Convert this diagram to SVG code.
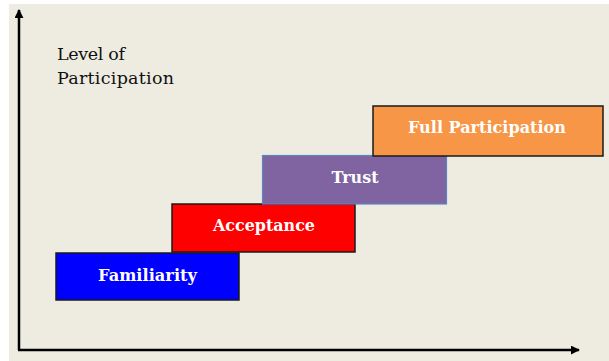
<svg xmlns="http://www.w3.org/2000/svg" width="609" height="361" viewBox="0 0 609 361">
<style>
.box{stroke:#1a1a1a;stroke-width:1.5}
.lbl{font-family:"DejaVu Serif","Liberation Serif",serif;font-weight:bold;font-size:17.5px;fill:#ffffff;text-anchor:middle}
.axis{fill:none;stroke:#000;stroke-width:2.5}
.ttl{font-family:"DejaVu Serif","Liberation Serif",serif;font-size:17.5px;fill:#111}
</style>
<defs>
<marker id="ah" viewBox="0 0 10 10" refX="9" refY="5" markerWidth="3.6" markerHeight="3.6" orient="auto" markerUnits="strokeWidth">
<path d="M0,0 L10,5 L0,10 Z" fill="#000"/>
</marker>
</defs>
<rect x="0" y="0" width="609" height="361" fill="#ffffff"/>
<rect x="9" y="4" width="600" height="357" fill="#EEECE1"/>
<g id="axes">
<path class="axis" d="M19,350 L19,10" marker-end="url(#ah)"/>
<path class="axis" d="M18,350 L579,350" marker-end="url(#ah)"/>
</g>
<g id="title">
<text class="ttl" x="57" y="60" textLength="68">Level of</text>
<text class="ttl" x="57" y="84" textLength="117">Participation</text>
</g>
<g id="familiarity">
<rect class="box" x="56" y="253" width="183" height="47" fill="#0000FF"/>
<text class="lbl" x="147.5" y="281" textLength="99" lengthAdjust="spacingAndGlyphs">Familiarity</text>
</g>
<g id="acceptance">
<rect class="box" x="172" y="204" width="183" height="48" fill="#FF0000"/>
<text class="lbl" x="264" y="231" textLength="102" lengthAdjust="spacingAndGlyphs">Acceptance</text>
</g>
<g id="trust">
<rect x="262.5" y="155.5" width="184" height="48.5" fill="#8064A2" stroke="#5B86C0" stroke-width="1.2"/>
<text class="lbl" x="355" y="183" textLength="47" lengthAdjust="spacingAndGlyphs">Trust</text>
</g>
<g id="full-participation">
<rect class="box" x="373" y="106" width="230" height="50" fill="#F79646"/>
<text class="lbl" x="487" y="133" textLength="158" lengthAdjust="spacingAndGlyphs">Full Participation</text>
</g>
</svg>
